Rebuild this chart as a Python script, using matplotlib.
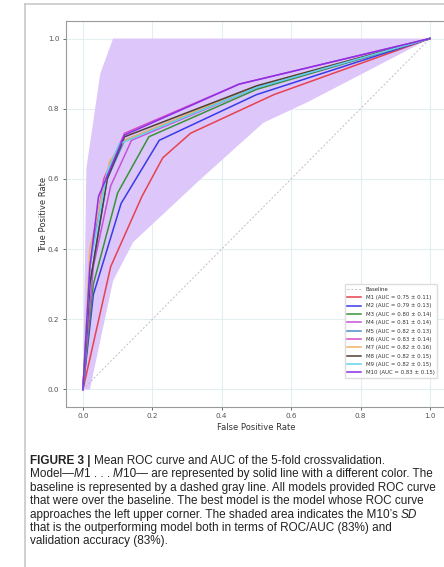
import numpy as np
import matplotlib
matplotlib.use('Agg')
import matplotlib.pyplot as plt
from matplotlib.lines import Line2D

# mean ROC points (fpr, tpr) for each model
labels = ['M1', 'M2', 'M3', 'M4', 'M5', 'M6', 'M7', 'M8', 'M9', 'M10']
auc_mean = [0.75, 0.79, 0.80, 0.81, 0.82, 0.83, 0.82, 0.82, 0.82, 0.83]
auc_std = [0.11, 0.13, 0.14, 0.14, 0.13, 0.14, 0.16, 0.15, 0.15, 0.15]
colors = ['#e8414e', '#3a3ae6', '#3a923a', '#c452d6', '#4a8ccc',
          '#d44cc8', '#f2b262', '#4e4038', '#62d2ee', '#8c2ee6']

fpr_m1 = [0, 0.08, 0.17, 0.23, 0.31, 0.55, 1]
tpr_m1 = [0, 0.35, 0.55, 0.66, 0.73, 0.84, 1]
fpr_m2 = [0, 0.03, 0.11, 0.22, 0.5, 1]
tpr_m2 = [0, 0.27, 0.53, 0.71, 0.84, 1]
fpr_m3 = [0, 0.03, 0.10, 0.19, 0.5, 1]
tpr_m3 = [0, 0.30, 0.56, 0.72, 0.855, 1]
fpr_m4 = [0, 0.03, 0.08, 0.14, 0.5, 1]
tpr_m4 = [0, 0.35, 0.58, 0.71, 0.86, 1]
fpr_m5 = [0, 0.02, 0.07, 0.12, 0.5, 1]
tpr_m5 = [0, 0.30, 0.60, 0.71, 0.86, 1]
fpr_m6 = [0, 0.02, 0.06, 0.12, 0.45, 1]
tpr_m6 = [0, 0.35, 0.60, 0.73, 0.87, 1]
fpr_m7 = [0, 0.02, 0.077, 0.12, 0.5, 1]
tpr_m7 = [0, 0.40, 0.65, 0.71, 0.865, 1]
fpr_m8 = [0, 0.02, 0.07, 0.12, 0.5, 1]
tpr_m8 = [0, 0.30, 0.60, 0.72, 0.865, 1]
fpr_m9 = [0, 0.02, 0.07, 0.105, 0.5, 1]
tpr_m9 = [0, 0.35, 0.62, 0.70, 0.86, 1]
fpr_m10 = [0, 0.02, 0.045, 0.12, 0.45, 1]
tpr_m10 = [0, 0.35, 0.55, 0.725, 0.87, 1]

fprs = [fpr_m1, fpr_m2, fpr_m3, fpr_m4, fpr_m5, fpr_m6, fpr_m7, fpr_m8, fpr_m9, fpr_m10]
tprs = [tpr_m1, tpr_m2, tpr_m3, tpr_m4, tpr_m5, tpr_m6, tpr_m7, tpr_m8, tpr_m9, tpr_m10]

# M10 +/- SD band edges
band_up_x = [0, 0.01, 0.05, 0.087, 1]
band_up_y = [0, 0.63, 0.90, 1.0, 1.0]
band_lo_x = [0, 0.02, 0.087, 0.145, 0.275, 0.34, 0.52, 0.65, 1]
band_lo_y = [0, 0, 0.31, 0.42, 0.54, 0.60, 0.76, 0.82, 1]

# caption lines as (text, style) pieces: n normal, b bold, i italic
caption = [
    [('FIGURE 3 | ', 'b'), ('Mean ROC curve and AUC of the 5-fold crossvalidation.', 'n')],
    [('Model\u2014', 'n'), ('M', 'i'), ('1 . . . ', 'n'), ('M', 'i'),
     ('10\u2014 are represented by solid line with a different color. The', 'n')],
    [('baseline is represented by a dashed gray line. All models provided ROC curve', 'n')],
    [('that were over the baseline. The best model is the model whose ROC curve', 'n')],
    [('approaches the left upper corner. The shaded area indicates the M10\u2019s ', 'n'), ('SD', 'i')],
    [('that is the outperforming model both in terms of ROC/AUC (83%) and', 'n')],
    [('validation accuracy (83%).', 'n')],
]

fig = plt.figure(figsize=(4.44, 5.67), dpi=100)
ax = fig.add_axes([0.1477, 0.2822, 0.8597, 0.6808])

ax.fill(np.concatenate([band_up_x, band_lo_x[::-1]]),
        np.concatenate([band_up_y, band_lo_y[::-1]]),
        color='#dcc6fa', lw=0, zorder=1)

ax.plot([0, 1], [0, 1], ls=(0, (2, 2)), color='#c4bcc8', lw=0.7, label='Baseline', zorder=2)
for i in range(len(labels)):
    ax.plot(fprs[i], tprs[i], color=colors[i], lw=1.1, zorder=3,
            label='%s (AUC = %.2f \u00b1 %.2f)' % (labels[i], auc_mean[i], auc_std[i]))

ax.set_xlim(-0.05, 1.05)
ax.set_ylim(-0.05, 1.05)
ax.set_xticks([0, 0.2, 0.4, 0.6, 0.8, 1.0])
ax.set_yticks([0, 0.2, 0.4, 0.6, 0.8, 1.0])
ax.grid(True, color='#e2eef0', lw=0.8)
ax.set_axisbelow(True)
for s in ax.spines.values():
    s.set_color('#9a9a9a')
    s.set_linewidth(0.8)
ax.tick_params(labelsize=5.2, colors='#555555', length=2.5, width=0.6, pad=2)
ax.set_xlabel('False Positive Rate', fontsize=6, color='#333333', labelpad=3)
ax.set_ylabel('True Positive Rate', fontsize=6, color='#333333', labelpad=0)

leg = ax.legend(loc='lower right', bbox_to_anchor=(0.981, 0.068), fontsize=3.9,
                frameon=True, fancybox=True, edgecolor='#dddddd', framealpha=1,
                handlelength=2.6, labelspacing=0.62, borderpad=0.5)
for t in leg.get_texts():
    t.set_color('#333333')

# page frame around the figure
fig.add_artist(Line2D([25 / 444, 25 / 444], [0, 1 - 4 / 567], color='#c8c8c8', lw=1.2,
                      transform=fig.transFigure))
fig.add_artist(Line2D([25 / 444, 1], [1 - 4 / 567, 1 - 4 / 567], color='#c8c8c8', lw=1.2,
                      transform=fig.transFigure))

renderer = fig.canvas.get_renderer()
y0 = 461
for k, pieces in enumerate(caption):
    xpx = 30
    for txt, st in pieces:
        t = fig.text(xpx / 444, 1 - (y0 + k * 13.4) / 567, txt, fontsize=8.5,
                     family='Liberation Sans', color='#222222', va='center', ha='left',
                     fontweight='bold' if st == 'b' else 'normal',
                     fontstyle='italic' if st == 'i' else 'normal')
        bb = t.get_window_extent(renderer)
        xpx = xpx + bb.width

fig.savefig('out.png', dpi=100)
